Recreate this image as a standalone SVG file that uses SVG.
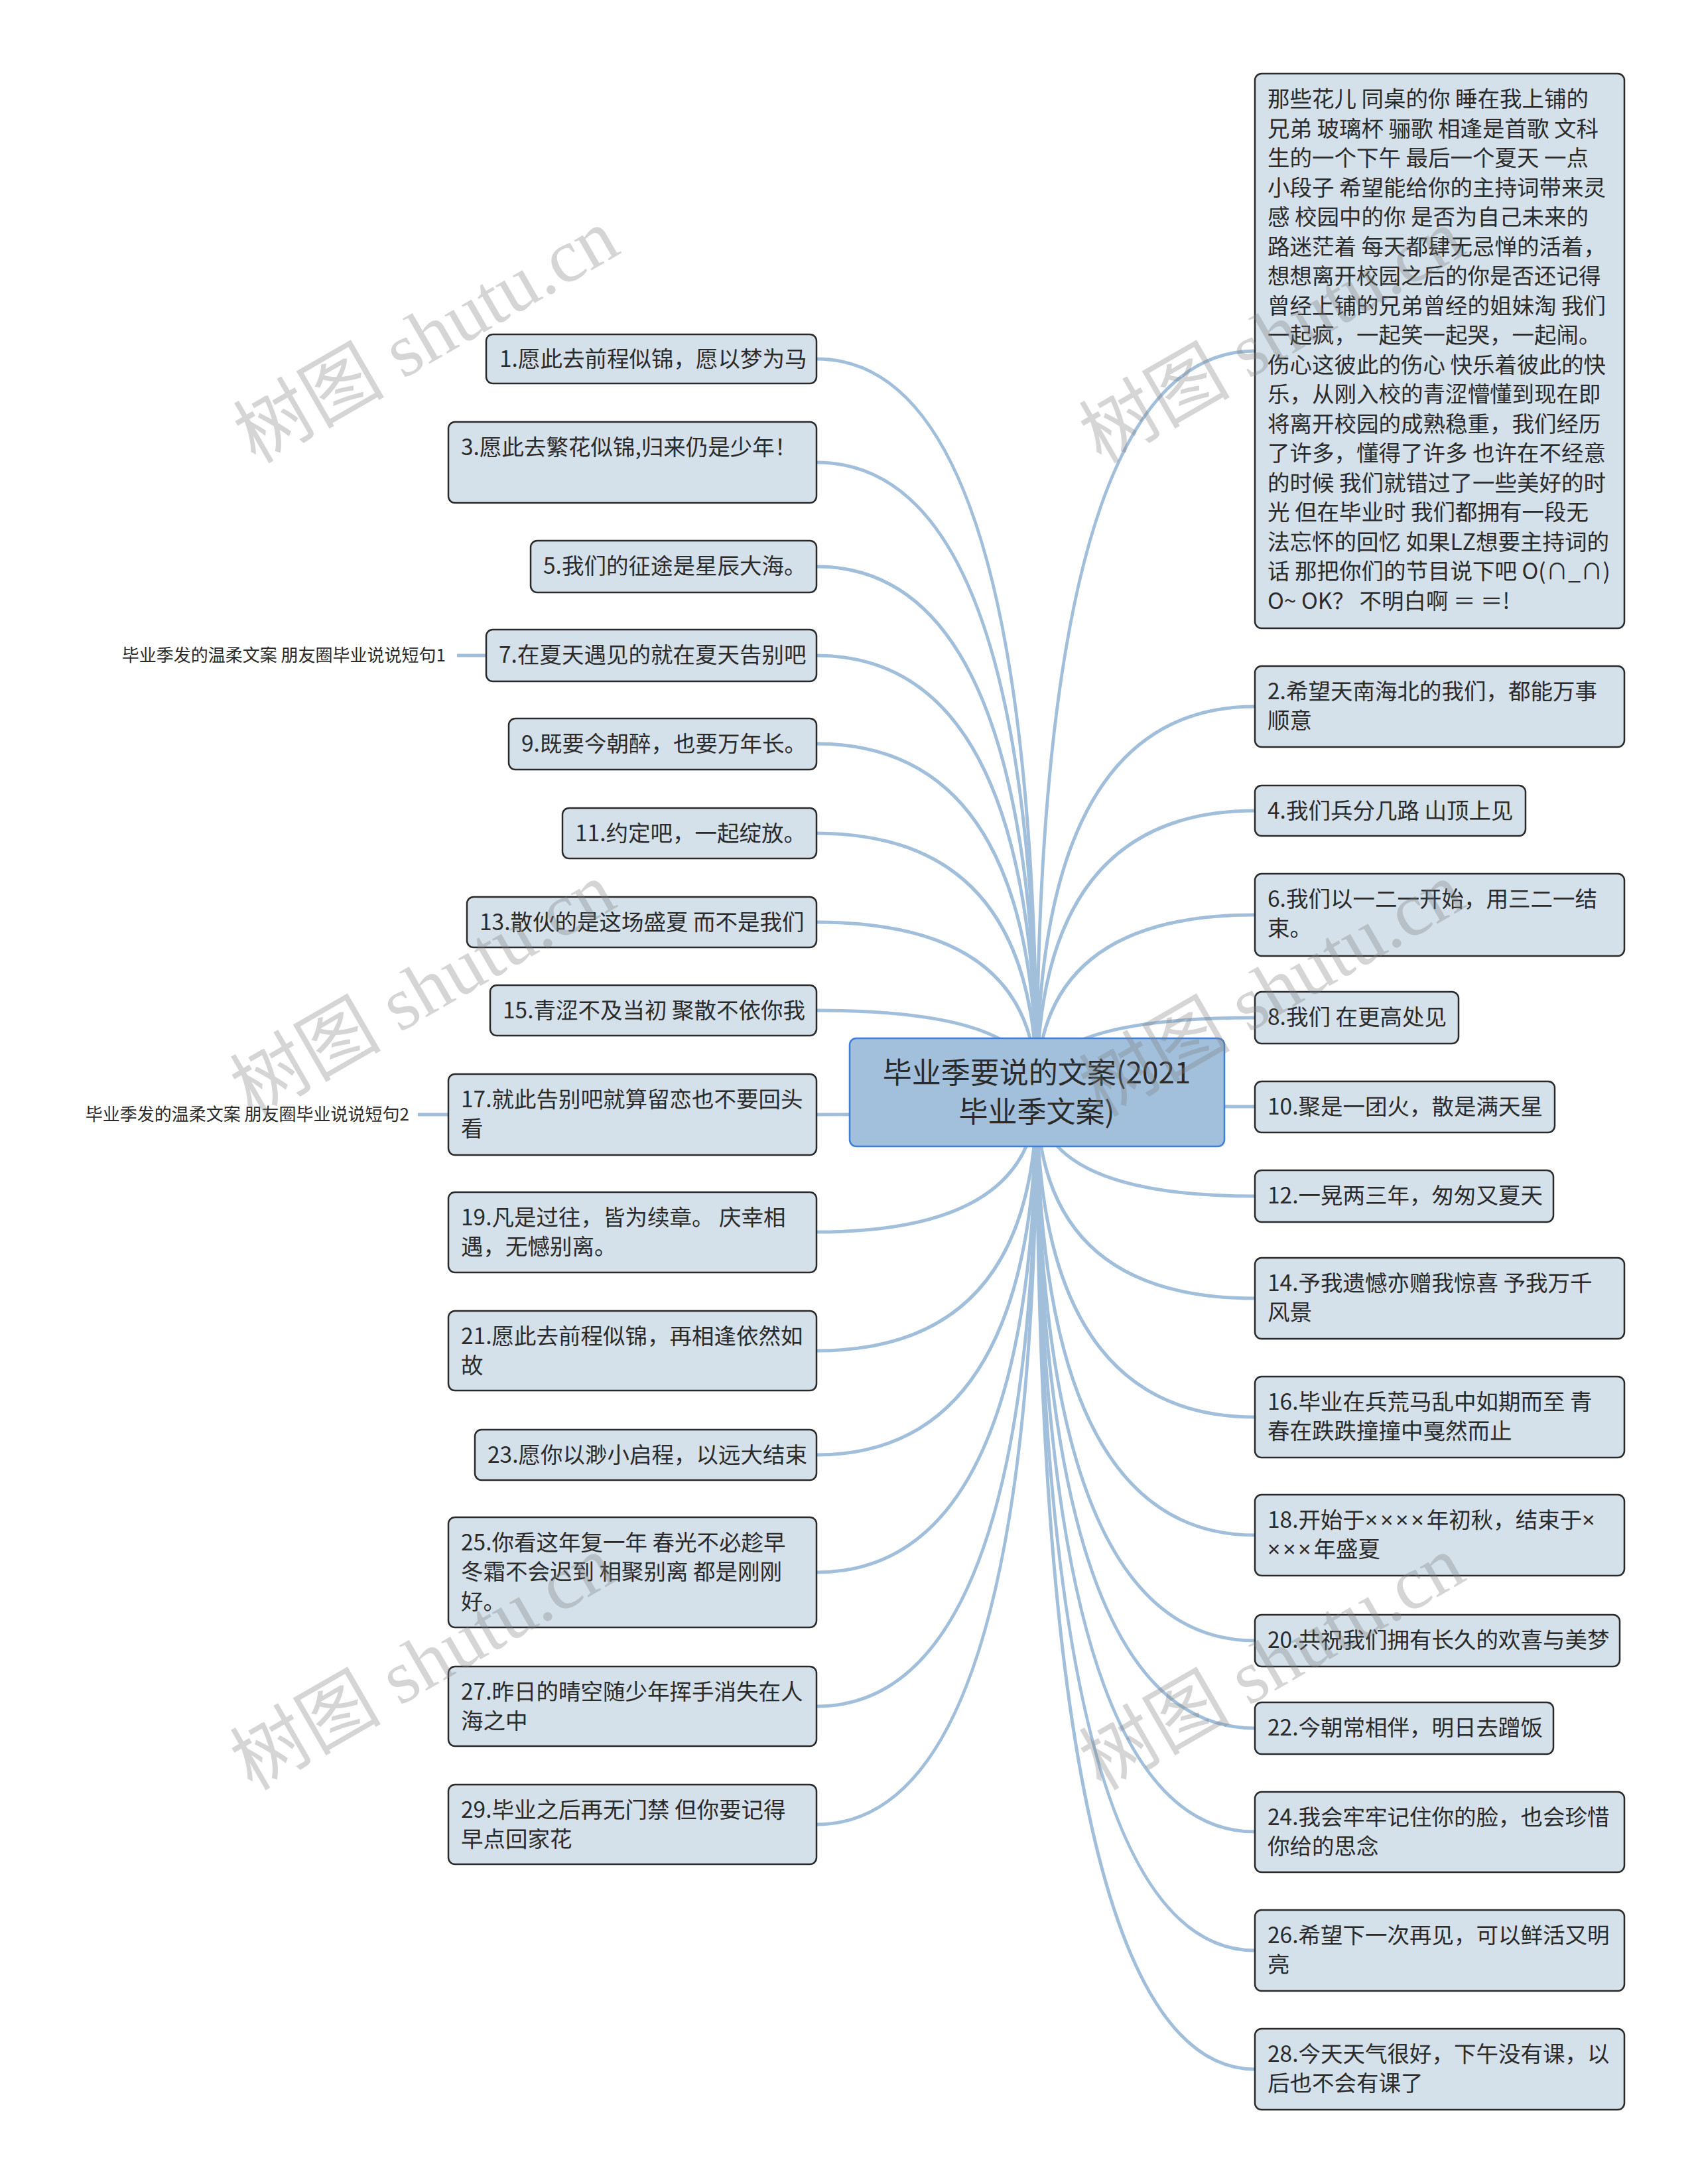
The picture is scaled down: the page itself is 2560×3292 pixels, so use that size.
<svg xmlns="http://www.w3.org/2000/svg" width="2560" height="3292" viewBox="0 0 2560 3292">
<style>
.n rect{fill:#d4e0ea;stroke:#2a2a2a;stroke-width:2.5}
.n text,.lb{font-family:"Noto Sans CJK SC","Noto Sans",sans-serif;font-size:33.5px;fill:#2b2b2b}
.lb{font-size:26px}
.x{font-family:"Noto Sans",sans-serif;letter-spacing:4px}
#edges path{fill:none;stroke:#a1bfdb;stroke-width:5}
.c rect{fill:#a2bfdc;stroke:#3f7fd6;stroke-width:2.5}
.c text{font-family:"Noto Sans CJK SC","Noto Sans",sans-serif;font-size:44px;fill:#2b2b2b;text-anchor:middle}
.wm{font-family:"Liberation Serif","Noto Sans CJK SC",serif;font-size:114px;fill:#808080;fill-opacity:0.33}
</style>
<rect width="2560" height="3292" fill="#fff"/>
<g id="edges">
<path d="M1563 1646Q1563 541 1231 541"/>
<path d="M1563 1646Q1563 697 1231 697"/>
<path d="M1563 1646Q1563 854 1231 854"/>
<path d="M1563 1646Q1563 988 1231 988"/>
<path d="M1563 1646Q1563 1121 1231 1121"/>
<path d="M1563 1646Q1563 1256 1231 1256"/>
<path d="M1563 1646Q1563 1390 1231 1390"/>
<path d="M1563 1646Q1563 1523 1231 1523"/>
<path d="M1563 1646Q1563 1680 1231 1680"/>
<path d="M1563 1646Q1563 1857 1231 1857"/>
<path d="M1563 1646Q1563 2036 1231 2036"/>
<path d="M1563 1646Q1563 2193 1231 2193"/>
<path d="M1563 1646Q1563 2370 1231 2370"/>
<path d="M1563 1646Q1563 2572 1231 2572"/>
<path d="M1563 1646Q1563 2750 1231 2750"/>
<path d="M1563 1646Q1563 529 1892 529"/>
<path d="M1563 1646Q1563 1065 1892 1065"/>
<path d="M1563 1646Q1563 1222 1892 1222"/>
<path d="M1563 1646Q1563 1379 1892 1379"/>
<path d="M1563 1646Q1563 1534 1892 1534"/>
<path d="M1563 1646Q1563 1668 1892 1668"/>
<path d="M1563 1646Q1563 1803 1892 1803"/>
<path d="M1563 1646Q1563 1957 1892 1957"/>
<path d="M1563 1646Q1563 2136 1892 2136"/>
<path d="M1563 1646Q1563 2314 1892 2314"/>
<path d="M1563 1646Q1563 2473 1892 2473"/>
<path d="M1563 1646Q1563 2605 1892 2605"/>
<path d="M1563 1646Q1563 2761 1892 2761"/>
<path d="M1563 1646Q1563 2940 1892 2940"/>
<path d="M1563 1646Q1563 3119 1892 3119"/>
<path d="M689 988L733 988"/>
<path d="M630 1680L676 1680"/>
</g>
<g id="center" class="c"><rect x="1281" y="1565" width="565" height="163" rx="10"/><text x="1563" y="1633">毕业季要说的文案(2021</text><text x="1563" y="1692">毕业季文案)</text></g>
<g id="n1" class="n"><rect x="733" y="504" width="498" height="74" rx="10"/><text x="753" y="553">1.愿此去前程似锦，愿以梦为马</text></g>
<g id="n3" class="n"><rect x="676" y="636" width="555" height="122" rx="10"/><text x="695" y="686">3.愿此去繁花似锦,归来仍是少年！</text></g>
<g id="n5" class="n"><rect x="800" y="815" width="431" height="78" rx="10"/><text x="819" y="865">5.我们的征途是星辰大海。</text></g>
<g id="n7" class="n"><rect x="733" y="949" width="498" height="78" rx="10"/><text x="752" y="999">7.在夏天遇见的就在夏天告别吧</text></g>
<g id="n9" class="n"><rect x="767" y="1083" width="464" height="77" rx="10"/><text x="786" y="1133">9.既要今朝醉，也要万年长。</text></g>
<g id="n11" class="n"><rect x="848" y="1218" width="383" height="76" rx="10"/><text x="867" y="1268">11.约定吧，一起绽放。</text></g>
<g id="n13" class="n"><rect x="704" y="1352" width="527" height="76" rx="10"/><text x="723" y="1402">13.散伙的是这场盛夏 而不是我们</text></g>
<g id="n15" class="n"><rect x="739" y="1485" width="492" height="76" rx="10"/><text x="758" y="1535">15.青涩不及当初 聚散不依你我</text></g>
<g id="n17" class="n"><rect x="676" y="1619" width="555" height="122" rx="10"/><text x="695" y="1669">17.就此告别吧就算留恋也不要回头</text><text x="695" y="1713">看</text></g>
<g id="n19" class="n"><rect x="676" y="1797" width="555" height="121" rx="10"/><text x="695" y="1847">19.凡是过往，皆为续章。 庆幸相</text><text x="695" y="1891">遇，无憾别离。</text></g>
<g id="n21" class="n"><rect x="676" y="1976" width="555" height="120" rx="10"/><text x="695" y="2026">21.愿此去前程似锦，再相逢依然如</text><text x="695" y="2070">故</text></g>
<g id="n23" class="n"><rect x="716" y="2155" width="515" height="76" rx="10"/><text x="735" y="2205">23.愿你以渺小启程，以远大结束</text></g>
<g id="n25" class="n"><rect x="676" y="2287" width="555" height="166" rx="10"/><text x="695" y="2337">25.你看这年复一年 春光不必趁早</text><text x="695" y="2381">冬霜不会迟到 相聚别离 都是刚刚</text><text x="695" y="2426">好。</text></g>
<g id="n27" class="n"><rect x="676" y="2512" width="555" height="120" rx="10"/><text x="695" y="2562">27.昨日的晴空随少年挥手消失在人</text><text x="695" y="2606">海之中</text></g>
<g id="n29" class="n"><rect x="676" y="2690" width="555" height="120" rx="10"/><text x="695" y="2740">29.毕业之后再无门禁 但你要记得</text><text x="695" y="2784">早点回家花</text></g>
<g id="lab1"><text class="lb" x="672" y="997" text-anchor="end">毕业季发的温柔文案 朋友圈毕业说说短句1</text></g>
<g id="lab2"><text class="lb" x="617" y="1689" text-anchor="end">毕业季发的温柔文案 朋友圈毕业说说短句2</text></g>
<g id="big" class="n"><rect x="1892" y="111" width="557" height="836" rx="10"/>
<text x="1911" y="161">那些花儿 同桌的你 睡在我上铺的</text>
<text x="1911" y="205.5">兄弟 玻璃杯 骊歌 相逢是首歌 文科</text>
<text x="1911" y="250">生的一个下午 最后一个夏天 一点</text>
<text x="1911" y="294.5">小段子 希望能给你的主持词带来灵</text>
<text x="1911" y="339">感 校园中的你 是否为自己未来的</text>
<text x="1911" y="383.5">路迷茫着 每天都肆无忌惮的活着，</text>
<text x="1911" y="428">想想离开校园之后的你是否还记得</text>
<text x="1911" y="472.5">曾经上铺的兄弟曾经的姐妹淘 我们</text>
<text x="1911" y="517">一起疯，一起笑一起哭，一起闹。</text>
<text x="1911" y="561.5">伤心这彼此的伤心 快乐着彼此的快</text>
<text x="1911" y="606">乐，从刚入校的青涩懵懂到现在即</text>
<text x="1911" y="650.5">将离开校园的成熟稳重，我们经历</text>
<text x="1911" y="695">了许多，懂得了许多 也许在不经意</text>
<text x="1911" y="739.5">的时候 我们就错过了一些美好的时</text>
<text x="1911" y="784">光 但在毕业时 我们都拥有一段无</text>
<text x="1911" y="828.5">法忘怀的回忆 如果LZ想要主持词的</text>
<text x="1911" y="873">话 那把你们的节目说下吧 O(∩_∩)</text>
<text x="1911" y="917.5">O~ OK？ 不明白啊 ＝ ＝!</text>
</g>
<g id="n2" class="n"><rect x="1892" y="1004" width="557" height="122" rx="10"/><text x="1911" y="1054">2.希望天南海北的我们，都能万事</text><text x="1911" y="1098">顺意</text></g>
<g id="n4" class="n"><rect x="1892" y="1184" width="408" height="76" rx="10"/><text x="1911" y="1234">4.我们兵分几路 山顶上见</text></g>
<g id="n6" class="n"><rect x="1892" y="1317" width="557" height="124" rx="10"/><text x="1911" y="1367">6.我们以一二一开始，用三二一结</text><text x="1911" y="1411">束。</text></g>
<g id="n8" class="n"><rect x="1892" y="1495" width="307" height="78" rx="10"/><text x="1911" y="1545">8.我们 在更高处见</text></g>
<g id="n10" class="n"><rect x="1892" y="1630" width="452" height="77" rx="10"/><text x="1911" y="1680">10.聚是一团火，散是满天星</text></g>
<g id="n12" class="n"><rect x="1892" y="1764" width="450" height="78" rx="10"/><text x="1911" y="1814">12.一晃两三年，匆匆又夏天</text></g>
<g id="n14" class="n"><rect x="1892" y="1896" width="557" height="122" rx="10"/><text x="1911" y="1946">14.予我遗憾亦赠我惊喜 予我万千</text><text x="1911" y="1990">风景</text></g>
<g id="n16" class="n"><rect x="1892" y="2075" width="557" height="122" rx="10"/><text x="1911" y="2125">16.毕业在兵荒马乱中如期而至 青</text><text x="1911" y="2169">春在跌跌撞撞中戛然而止</text></g>
<g id="n18" class="n"><rect x="1892" y="2253" width="557" height="122" rx="10"/><text x="1911" y="2303">18.开始于<tspan class="x">××××</tspan>年初秋，结束于<tspan class="x">×</tspan></text><text x="1911" y="2347"><tspan class="x">×××</tspan>年盛夏</text></g>
<g id="n20" class="n"><rect x="1892" y="2434" width="550" height="78" rx="10"/><text x="1911" y="2484">20.共祝我们拥有长久的欢喜与美梦</text></g>
<g id="n22" class="n"><rect x="1892" y="2566" width="450" height="78" rx="10"/><text x="1911" y="2616">22.今朝常相伴，明日去蹭饭</text></g>
<g id="n24" class="n"><rect x="1892" y="2701" width="557" height="121" rx="10"/><text x="1911" y="2751">24.我会牢牢记住你的脸，也会珍惜</text><text x="1911" y="2795">你给的思念</text></g>
<g id="n26" class="n"><rect x="1892" y="2879" width="557" height="122" rx="10"/><text x="1911" y="2929">26.希望下一次再见，可以鲜活又明</text><text x="1911" y="2973">亮</text></g>
<g id="n28" class="n"><rect x="1892" y="3058" width="557" height="122" rx="10"/><text x="1911" y="3108">28.今天天气很好，下午没有课，以</text><text x="1911" y="3152">后也不会有课了</text></g>
<g id="watermarks">
<text class="wm" transform="translate(385 700) rotate(-30)">树图 shutu.cn</text>
<text class="wm" transform="translate(1660 700) rotate(-30)">树图 shutu.cn</text>
<text class="wm" transform="translate(380 1685) rotate(-30)">树图 shutu.cn</text>
<text class="wm" transform="translate(1660 1685) rotate(-30)">树图 shutu.cn</text>
<text class="wm" transform="translate(380 2700) rotate(-30)">树图 shutu.cn</text>
<text class="wm" transform="translate(1660 2700) rotate(-30)">树图 shutu.cn</text>
</g>
</svg>
